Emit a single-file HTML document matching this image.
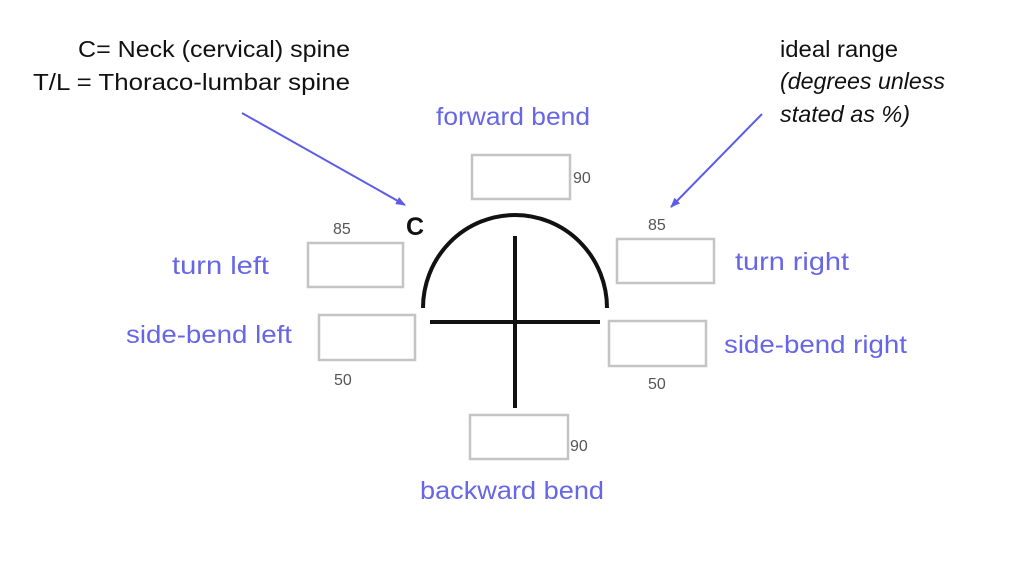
<!DOCTYPE html>
<html><head><meta charset="utf-8"><style>
html,body{margin:0;padding:0;background:#fff;}
svg{display:block;}
</style></head><body>
<svg width="1024" height="582" viewBox="0 0 1024 582" xmlns="http://www.w3.org/2000/svg">
<defs>
<marker id="ah" markerWidth="10" markerHeight="8" refX="9" refY="4" orient="auto" markerUnits="userSpaceOnUse">
<path d="M0,0 L10,4 L0,8 z" fill="#5c5ce8"/>
</marker>
</defs>
<g font-family="Liberation Sans, sans-serif">
<text x="78" y="57" font-size="23" fill="#111" textLength="272" lengthAdjust="spacingAndGlyphs">C= Neck (cervical) spine</text>
<text x="33" y="90" font-size="23" fill="#111" textLength="317" lengthAdjust="spacingAndGlyphs">T/L = Thoraco-lumbar spine</text>
<text x="780" y="57" font-size="23" fill="#111" textLength="118" lengthAdjust="spacingAndGlyphs">ideal range</text>
<text x="780" y="89" font-size="23" fill="#111" font-style="italic" textLength="165" lengthAdjust="spacingAndGlyphs">(degrees unless</text>
<text x="780" y="122" font-size="23" fill="#111" font-style="italic" textLength="130" lengthAdjust="spacingAndGlyphs">stated as %)</text>

<g fill="#6666e6" font-size="25">
<text x="436" y="125" textLength="154" lengthAdjust="spacingAndGlyphs">forward bend</text>
<text x="172" y="274" textLength="97" lengthAdjust="spacingAndGlyphs">turn left</text>
<text x="126" y="343" textLength="166" lengthAdjust="spacingAndGlyphs">side-bend left</text>
<text x="735" y="270" textLength="114" lengthAdjust="spacingAndGlyphs">turn right</text>
<text x="724" y="353" textLength="183" lengthAdjust="spacingAndGlyphs">side-bend right</text>
<text x="420" y="499" textLength="184" lengthAdjust="spacingAndGlyphs">backward bend</text>
</g>

<line x1="242" y1="113" x2="405" y2="205" stroke="#5c5ce8" stroke-width="2" marker-end="url(#ah)"/>
<line x1="762" y1="114" x2="671" y2="207" stroke="#5c5ce8" stroke-width="2" marker-end="url(#ah)"/>

<g fill="none" stroke="#c4c4c4" stroke-width="2.5">
<rect x="472" y="155" width="98" height="44"/>
<rect x="308" y="243" width="95" height="44"/>
<rect x="319" y="315" width="96" height="45"/>
<rect x="617" y="239" width="97" height="44"/>
<rect x="609" y="321" width="97" height="45"/>
<rect x="470" y="415" width="98" height="44"/>
</g>

<g fill="#555" font-size="16">
<text x="573" y="183">90</text>
<text x="333" y="234">85</text>
<text x="648" y="230">85</text>
<text x="334" y="385">50</text>
<text x="648" y="389">50</text>
<text x="570" y="451">90</text>
</g>

<text x="406" y="235" font-size="25" font-weight="bold" fill="#111">C</text>

<g stroke="#111" stroke-width="4" fill="none" stroke-linecap="butt">
<path d="M423,308 A92,93 0 0 1 607,308"/>
<line x1="430" y1="322" x2="600" y2="322"/>
<line x1="515" y1="236" x2="515" y2="408"/>
</g>
</g>
</svg>
</body></html>
